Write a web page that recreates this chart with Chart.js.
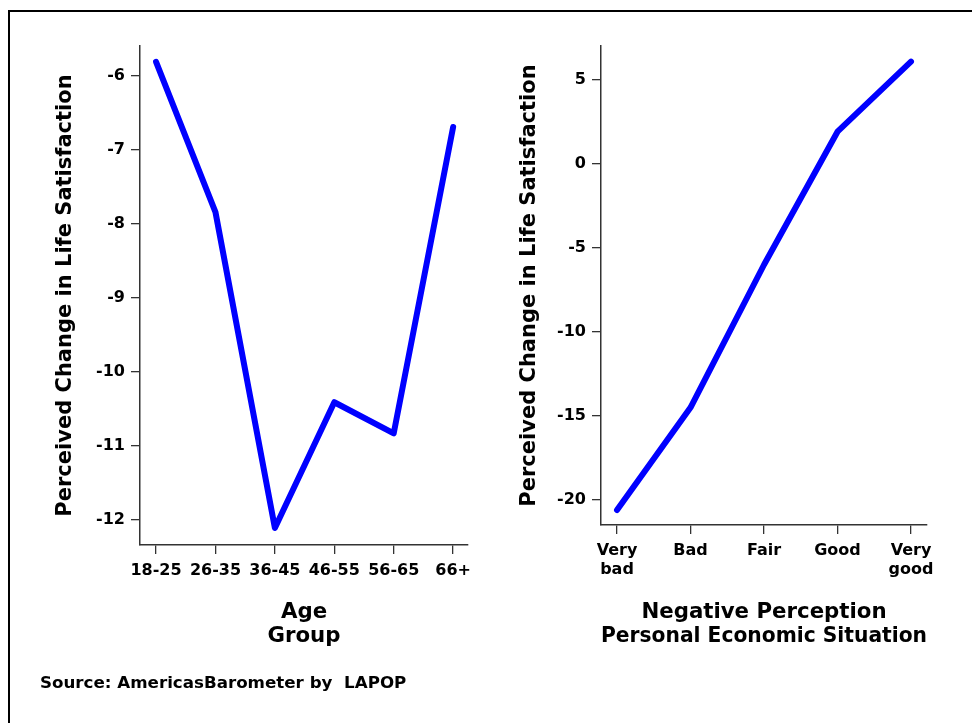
<!DOCTYPE html>
<html>
<head>
<meta charset="utf-8">
<script src="https://cdn.jsdelivr.net/npm/chart.js@4.4.1/dist/chart.umd.min.js"></script>
<style>
  html, body { margin: 0; padding: 0; background: #fff; overflow: hidden; }
  body { width: 972px; height: 723px; position: relative; }
  #frame { position: absolute; left: 8px; top: 10px; width: 1000px; height: 800px; border: 2px solid #000; }
  .panel { position: absolute; top: 0; width: 486px; height: 723px; }
  #source { position: absolute; left: 40px; top: 672px; font: bold 16.7px "DejaVu Sans"; line-height: 20px; white-space: pre; color: #000; }
</style>
</head>
<body>
<div id="frame"></div>
<div class="panel" style="left:0"><canvas id="ageChart" width="486" height="723"></canvas></div>
<div class="panel" style="left:486px"><canvas id="econChart" width="486" height="723"></canvas></div>
<div id="source">Source: AmericasBarometer by  LAPOP</div>
<script>
// left panel: age groups
const ageGroups = ['18-25', '26-35', '36-45', '46-55', '56-65', '66+'];
const ageValues = [-5.81, -7.84, -12.11, -10.41, -10.83, -6.69];
const ageTicks = [-6, -7, -8, -9, -10, -11, -12];

// right panel: perception of personal economic situation
const econLevels = [['Very', 'bad'], ['Bad'], ['Fair'], ['Good'], ['Very', 'good']];
const econValues = [-20.6, -14.5, -6.0, 1.92, 6.09];
const econTicks = [5, 0, -5, -10, -15, -20];

const yTitle = 'Perceived Change in Life Satisfaction';
const fontFamily = '"DejaVu Sans"';

function makeChart(id, cats, vals, yTicks, o) {
    const axisColor = '#333';
    return new Chart(document.getElementById(id), {
        type: 'line',
        data: {
            datasets: [{
                data: vals.map((v, i) => ({ x: i, y: v })),
                borderColor: '#0000ff',
                borderWidth: 6,
                borderCapStyle: 'round',
                borderJoinStyle: 'round',
                pointRadius: 0,
                tension: 0,
                fill: false,
                clip: false
            }]
        },
        options: {
            responsive: false,
            animation: false,
            layout: { padding: o.padding },
            plugins: { legend: { display: false }, tooltip: { enabled: false } },
            scales: {
                x: {
                    type: 'linear',
                    min: o.xMin,
                    max: o.xMax,
                    afterBuildTicks: s => { s.ticks = cats.map((c, i) => ({ value: i })); },
                    afterFit: s => { s.height = o.xHeight; },
                    ticks: {
                        autoSkip: false, maxRotation: 0, padding: 7, color: '#000',
                        font: { family: fontFamily, size: 16, weight: 'bold', lineHeight: 1.2 },
                        callback: v => cats[v]
                    },
                    grid: { drawOnChartArea: false, drawTicks: true, tickLength: 9, color: axisColor, lineWidth: 1.3 },
                    border: { display: true, color: axisColor, width: 1.5 },
                    title: {
                        display: true, text: o.xTitle, color: '#000',
                        padding: { top: 0, bottom: 0 },
                        font: { family: fontFamily, size: 21.3, weight: 'bold', lineHeight: 1.14 }
                    }
                },
                y: {
                    min: o.yMin,
                    max: o.yMax,
                    afterBuildTicks: s => { s.ticks = yTicks.map(v => ({ value: v })); },
                    afterFit: s => { s.width = o.yWidth; },
                    ticks: {
                        padding: 6, color: '#000',
                        font: { family: fontFamily, size: 16, weight: 'bold' },
                        callback: v => String(v)
                    },
                    grid: { drawOnChartArea: false, drawTicks: true, tickLength: 9, color: axisColor, lineWidth: 1.3 },
                    border: { display: true, color: axisColor, width: 1.5 },
                    title: {
                        display: true, text: yTitle, color: '#000',
                        padding: { top: 0, bottom: 0 },
                        font: { family: fontFamily, size: 21, weight: 'bold', lineHeight: 1.15 }
                    }
                }
            }
        }
    });
}

makeChart('ageChart', ageGroups, ageValues, ageTicks, {
    padding: { left: 53.6, top: 46, right: 18, bottom: 74.5 },
    yWidth: 86.4, xHeight: 103.5,
    xMin: -0.27, xMax: 5.25, yMin: -12.34, yMax: -5.595,
    xTitle: ['Age', 'Group']
});

makeChart('econChart', econLevels, econValues, econTicks, {
    padding: { left: 31.6, top: 46, right: 45, bottom: 74.5 },
    yWidth: 83.4, xHeight: 123.5,
    xMin: -0.218, xMax: 4.218, yMin: -21.49, yMax: 7.02,
    xTitle: ['Negative Perception', 'Personal Economic Situation']
});
</script>
</body>
</html>
